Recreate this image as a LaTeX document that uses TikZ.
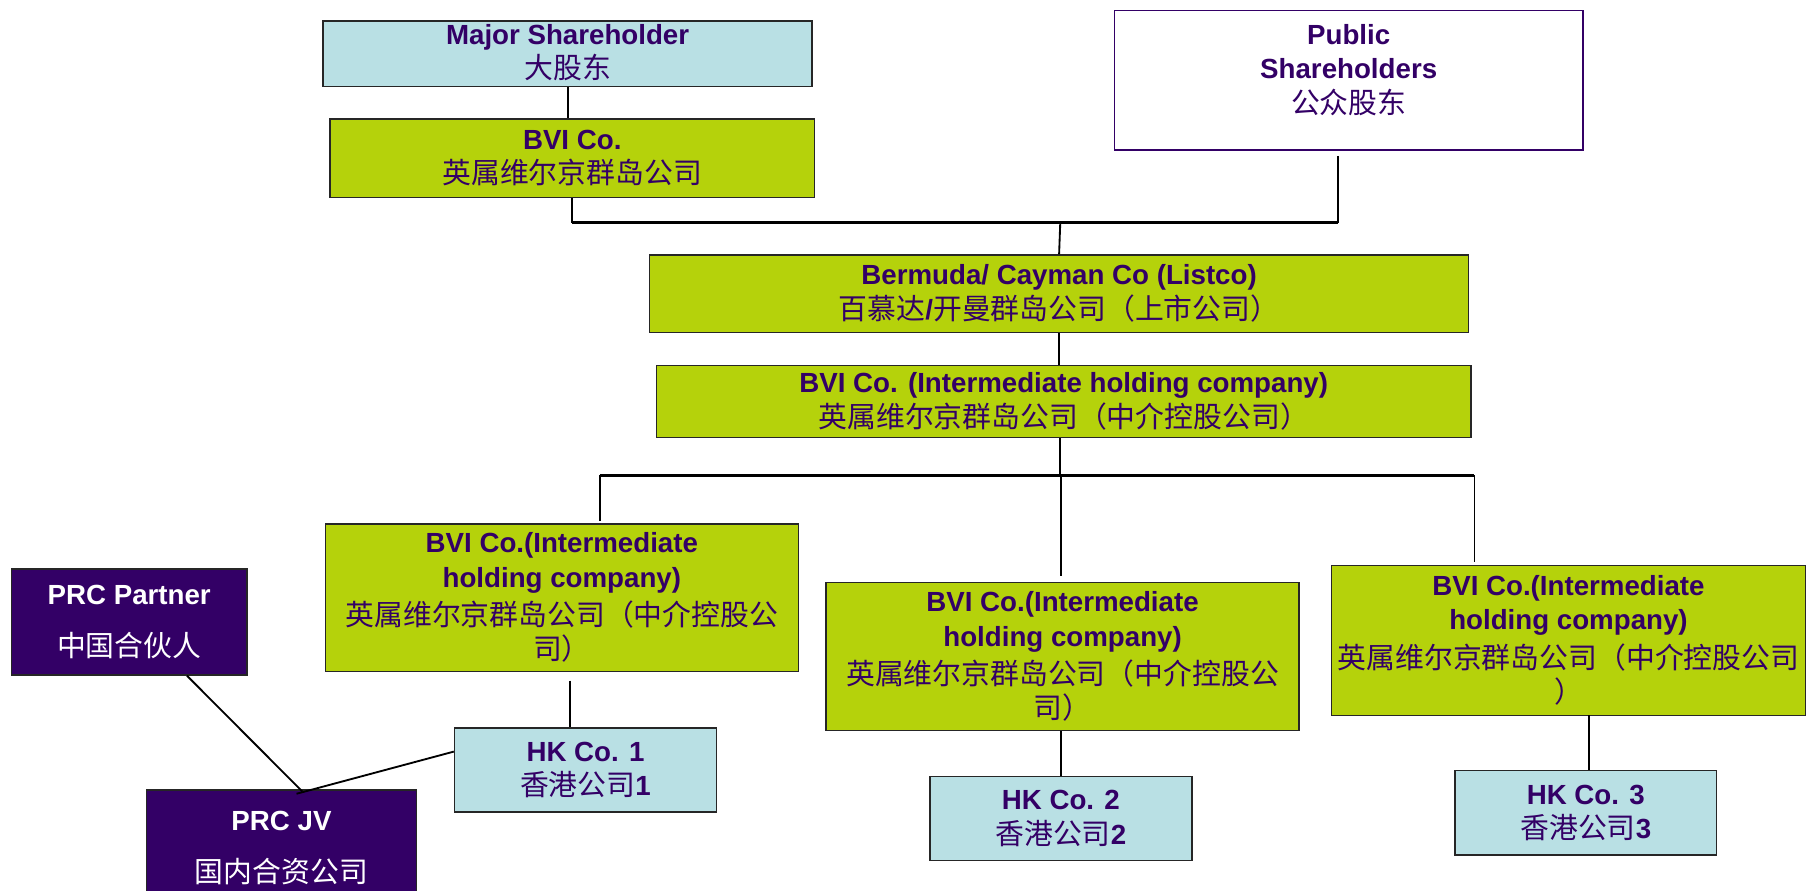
\documentclass[tikz,border=0pt]{standalone}
\usepackage{fontspec}
\setmainfont{Liberation Sans}
\newfontfamily\zhfont{Noto Sans CJK SC}
\usetikzlibrary{positioning, calc}
\definecolor{boxlime}{RGB}{181,210,11}
\definecolor{boxcyan}{RGB}{185,224,228}
\definecolor{prcpurple}{RGB}{51,0,102}
\definecolor{txtpurple}{RGB}{51,0,102}
\newcommand{\zh}[1]{{\zhfont\mdseries\fontsize{25}{30}\selectfont #1}}
\tikzset{
    cobox/.style={
        draw=black!85, line width=1.3pt, inner sep=0pt, align=center,
        text=txtpurple, font=\fontsize{24}{30}\selectfont\bfseries
    },
    bvibox/.style={cobox, fill=boxlime},
    hkbox/.style={cobox, fill=boxcyan},
    prcbox/.style={cobox, fill=prcpurple, text=white},
    pubbox/.style={cobox, fill=white, draw=prcpurple},
    link/.style={draw=black, line width=1.6pt},
    busline/.style={draw=black, line width=2.6pt}
}

\begin{document}
\begin{tikzpicture}[x=1pt, y=-1pt]
    \useasboundingbox (0,0) rectangle (1568,772);
    \clip (0,0) rectangle (1568,772);

    % ======================================
    % SHAREHOLDERS
    % ======================================
    \node[hkbox, minimum width=424, minimum height=57] (major) at (492,46.5)
        {Major Shareholder\\\zh{大股东}\\[-26pt]\mbox{}};
    \node[bvibox, minimum width=420, minimum height=68] (bvitop) at (496,137)
        {BVI Co.\\\zh{英属维尔京群岛公司}};
    \node[pubbox, minimum width=406, minimum height=121] (public) at (1169,69.5)
        {Public\\Shareholders\\\zh{公众股东}\\[-10pt]\mbox{}};

    % ======================================
    % LISTCO + HOLDING
    % ======================================
    \node[bvibox, minimum width=710, minimum height=67] (listco) at (918,254.5)
        {Bermuda/ Cayman Co (Listco)\\\zh{百慕达}/\zh{开曼群岛公司（上市公司）}};
    \node[bvibox, minimum width=706, minimum height=62] (bvimid) at (922,348)
        {BVI Co. (Intermediate holding company)\\\zh{英属维尔京群岛公司（中介控股公司）}};

    % ======================================
    % INTERMEDIATE BVI COS
    % ======================================
    \node[bvibox, minimum width=410, minimum height=128] (bvione) at (487,518)
        {BVI Co.(Intermediate\\holding company)\\[3pt]\zh{英属维尔京群岛公司（中介控股公}\\\zh{司）}};
    \node[bvibox, minimum width=410, minimum height=128] (bvitwo) at (921,569)
        {BVI Co.(Intermediate\\holding company)\\[3pt]\zh{英属维尔京群岛公司（中介控股公}\\\zh{司）}};
    \node[bvibox, minimum width=411, minimum height=130] (bvithree) at (1359.5,555)
        {BVI Co.(Intermediate\\holding company)\\[3pt]\zh{英属维尔京群岛公司（中介控股公司}\\\zh{）}};

    % HK companies
    \node[hkbox, minimum width=227, minimum height=73] (hkone) at (507.5,667.5)
        {HK Co. 1\\\zh{香港公司}1};
    \node[hkbox, minimum width=227, minimum height=73] (hktwo) at (919.5,709.5)
        {HK Co. 2\\\zh{香港公司}2};
    \node[hkbox, minimum width=227, minimum height=73] (hkthree) at (1374.5,704.5)
        {HK Co. 3\\\zh{香港公司}3};

    % PRC side
    \node[prcbox, minimum width=204, minimum height=92] (partner) at (112,539)
        {PRC Partner\\[15pt]\textcolor{white}{\zh{中国合伙人}}};
    \node[prcbox, minimum width=234, minimum height=100, anchor=north] (prcjv) at (244,684)
        {PRC JV\\[15pt]\textcolor{white}{\zh{国内合资公司}}};

    % ======================================
    % CONNECTORS
    % ======================================
    \coordinate (topbus) at (919,193);
    \coordinate (pubdrop) at (1160,135);
    \draw[link] (major.south) -- (major.south |- bvitop.north);
    \draw[link] (bvitop.south) -- (bvitop.south |- topbus);
    \draw[busline] (bvitop.south |- topbus) -- (pubdrop |- topbus);
    \draw[link] (pubdrop) -- (pubdrop |- topbus);
    \draw[link] (topbus) -- (listco.north);
    \draw[link] (listco.south) -- (listco.south |- bvimid.north);

    \coordinate (midbus) at (919,412);
    \coordinate (dropone) at (520,412);
    \coordinate (droptwo) at (920,412);
    \coordinate (dropthree) at (1278,412);
    \draw[link] (bvimid.south -| midbus) -- (midbus);
    \draw[busline] (dropone) -- (dropthree);
    \draw[link] (dropone) -- ($(dropone |- bvione.north)+(0,-2)$);
    \draw[link] (droptwo) -- ($(droptwo |- bvitwo.north)+(0,-5)$);
    \draw[link] (dropthree) -- ($(dropthree |- bvithree.north)+(0,-2)$);

    \coordinate (hkonedrop) at (494,590);
    \coordinate (hkthreedrop) at (1377,620);
    \draw[link] (hkonedrop) -- (hkonedrop |- hkone.north);
    \draw[link] (bvitwo.south -| hktwo.north) -- (hktwo.north);
    \draw[link] (hkthreedrop) -- (hkthreedrop |- hkthree.north);

    % JV links
    \coordinate (jvtop) at ($(prcjv.north)+(18,2)$);
    \draw[link] (partner.-43) -- (jvtop);
    \draw[link] (hkone.172) -- ($(prcjv.north)+(13,4)$);

\end{tikzpicture}
\end{document}
